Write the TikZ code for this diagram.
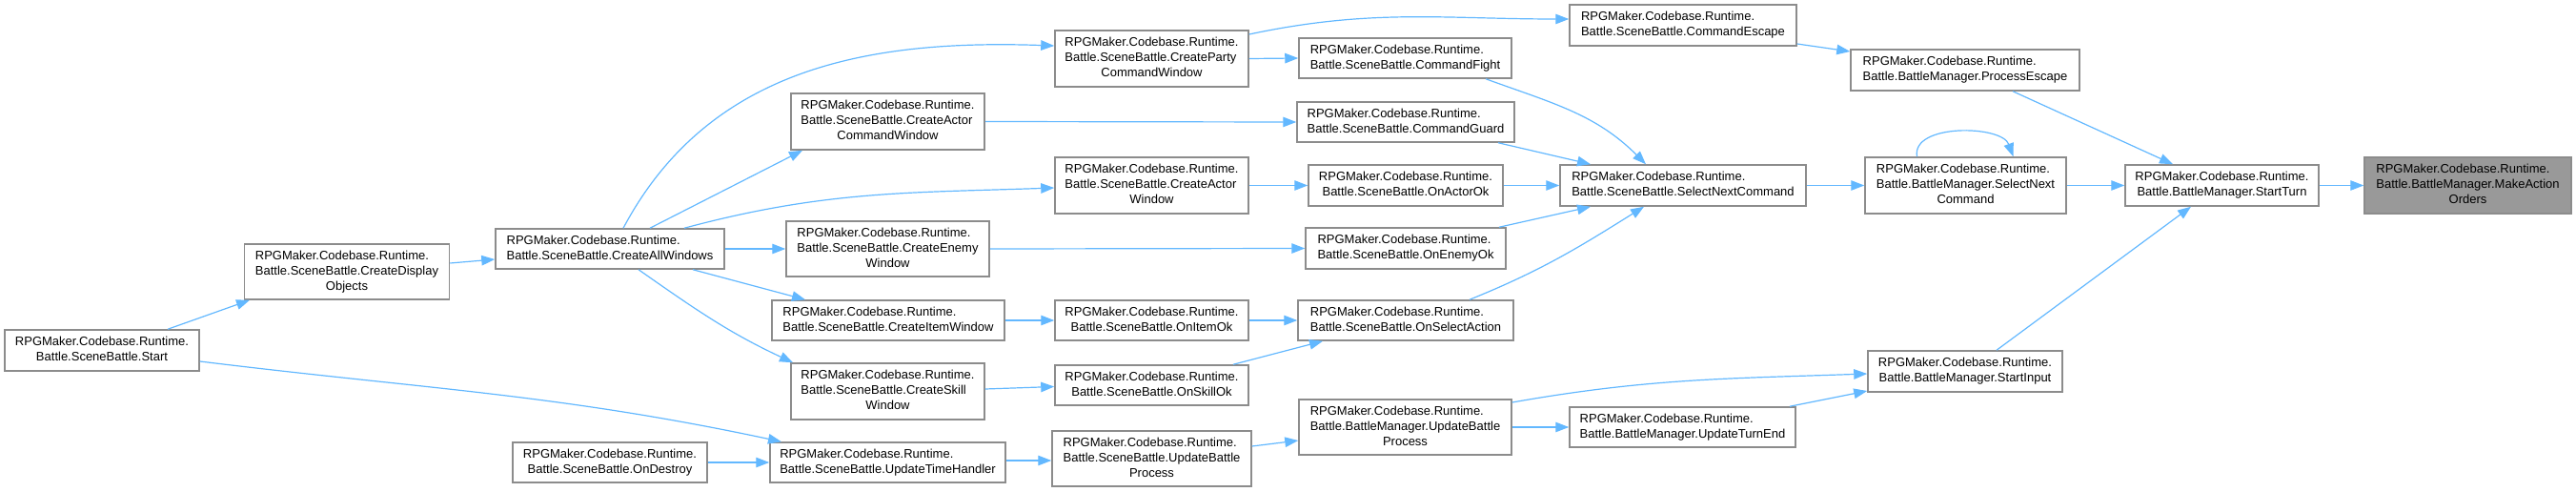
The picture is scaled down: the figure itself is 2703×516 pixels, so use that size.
\documentclass[tikz,border=0pt]{standalone}
\usepackage{fontspec}
\setmainfont{Liberation Sans}
\usetikzlibrary{arrows.meta}
\definecolor{edgec}{HTML}{63B8FF}
\definecolor{boxc}{HTML}{8C8C8C}
\definecolor{rootfill}{HTML}{999999}
\newcommand{\twol}[2]{\begin{tabular}{@{}l@{}}#1\\\multicolumn{1}{@{}c@{}}{#2}\end{tabular}}
\newcommand{\threel}[3]{\begin{tabular}{@{}l@{}}#1\\#2\\\multicolumn{1}{@{}c@{}}{#3}\end{tabular}}
\newcommand{\RC}{RPGMaker.Codebase.Runtime.}
\begin{document}
\begin{tikzpicture}[x=1pt,y=1pt,
  fn/.style={rectangle, draw=boxc, fill=white, line width=1.5pt, inner sep=0pt,
    font=\fontsize{13}{16}\selectfont, text=black},
  root/.style={fn, fill=rootfill},
  call/.style={draw=edgec, line width=1.2pt, -{Triangle[length=14pt,width=10.5pt]}}]
\useasboundingbox (0,0) rectangle (2703,-516);

\node[fn, minimum width=204pt, minimum height=43pt] (start) at (107,-367.5) {\twol{\RC}{Battle.SceneBattle.Start}};
\node[fn, minimum width=215pt, minimum height=58pt] (createdisplay) at (364,-285) {\threel{\RC}{Battle.SceneBattle.CreateDisplay}{Objects}};
\node[fn, minimum width=240pt, minimum height=42pt] (createall) at (640,-261) {\twol{\RC}{Battle.SceneBattle.CreateAllWindows}};
\node[fn, minimum width=203pt, minimum height=59pt] (createparty) at (1208.5,-61.5) {\threel{\RC}{Battle.SceneBattle.CreateParty}{CommandWindow}};
\node[fn, minimum width=203pt, minimum height=59pt] (createactorcmd) at (931.5,-127.5) {\threel{\RC}{Battle.SceneBattle.CreateActor}{CommandWindow}};
\node[fn, minimum width=203pt, minimum height=59pt] (createactor) at (1208.5,-194.5) {\threel{\RC}{Battle.SceneBattle.CreateActor}{Window}};
\node[fn, minimum width=213pt, minimum height=58pt] (createenemy) at (931.5,-261) {\threel{\RC}{Battle.SceneBattle.CreateEnemy}{Window}};
\node[fn, minimum width=244pt, minimum height=42pt] (createitem) at (932,-336) {\twol{\RC}{Battle.SceneBattle.CreateItemWindow}};
\node[fn, minimum width=203pt, minimum height=59pt] (createskill) at (931.5,-410.5) {\threel{\RC}{Battle.SceneBattle.CreateSkill}{Window}};
\node[fn, minimum width=204pt, minimum height=42pt] (ondestroy) at (640,-485) {\twol{\RC}{Battle.SceneBattle.OnDestroy}};
\node[fn, minimum width=247pt, minimum height=42pt] (updatetime) at (931.5,-485) {\twol{\RC}{Battle.SceneBattle.UpdateTimeHandler}};
\node[fn, minimum width=209pt, minimum height=58pt] (updatebattlescene) at (1208.5,-481) {\threel{\RC}{Battle.SceneBattle.UpdateBattle}{Process}};
\node[fn, minimum width=223pt, minimum height=42pt] (commandfight) at (1474.5,-61) {\twol{\RC}{Battle.SceneBattle.CommandFight}};
\node[fn, minimum width=228pt, minimum height=42pt] (commandguard) at (1475,-128) {\twol{\RC}{Battle.SceneBattle.CommandGuard}};
\node[fn, minimum width=204pt, minimum height=43pt] (onactorok) at (1475,-194.5) {\twol{\RC}{Battle.SceneBattle.OnActorOk}};
\node[fn, minimum width=210pt, minimum height=43pt] (onenemyok) at (1475,-260.5) {\twol{\RC}{Battle.SceneBattle.OnEnemyOk}};
\node[fn, minimum width=203pt, minimum height=42pt] (onitemok) at (1208.5,-336) {\twol{\RC}{Battle.SceneBattle.OnItemOk}};
\node[fn, minimum width=226pt, minimum height=42pt] (onselectaction) at (1475,-336) {\twol{\RC}{Battle.SceneBattle.OnSelectAction}};
\node[fn, minimum width=203pt, minimum height=42pt] (onskillok) at (1208.5,-404) {\twol{\RC}{Battle.SceneBattle.OnSkillOk}};
\node[fn, minimum width=223pt, minimum height=58pt] (updatebattlemgr) at (1474.5,-448) {\threel{\RC}{Battle.BattleManager.UpdateBattle}{Process}};
\node[fn, minimum width=238pt, minimum height=43pt] (commandescape) at (1766,-26.5) {\twol{\RC}{Battle.SceneBattle.CommandEscape}};
\node[fn, minimum width=258pt, minimum height=43pt] (selectnextcmd) at (1766,-194.5) {\twol{\RC}{Battle.SceneBattle.SelectNextCommand}};
\node[fn, minimum width=237pt, minimum height=42pt] (updateturnend) at (1765.5,-448) {\twol{\RC}{Battle.BattleManager.UpdateTurnEnd}};
\node[fn, minimum width=240pt, minimum height=43pt] (processescape) at (2062,-73.5) {\twol{\RC}{Battle.BattleManager.ProcessEscape}};
\node[fn, minimum width=211pt, minimum height=59pt] (selectnextmgr) at (2062.5,-194.5) {\threel{\RC}{Battle.BattleManager.SelectNext}{Command}};
\node[fn, minimum width=204pt, minimum height=43pt] (startinput) at (2062,-389.5) {\twol{\RC}{Battle.BattleManager.StartInput}};
\node[fn, minimum width=203pt, minimum height=43pt] (startturn) at (2331.5,-194.5) {\twol{\RC}{Battle.BattleManager.StartTurn}};
\node[root, minimum width=217pt, minimum height=59pt] (makeaction) at (2589.5,-194.5) {\threel{\RC}{Battle.BattleManager.MakeAction}{Orders}};

\draw[call] ([xshift=69pt]start.north) -- ([xshift=-102pt]createdisplay.south);
\draw[call] ([yshift=-11.5pt]start.east) to[out=-7,in=168] ([xshift=-111.5pt]updatetime.north);
\draw[call] ([yshift=9pt]createdisplay.east) -- ([yshift=-11pt]createall.west);
\draw[call] ([xshift=14pt]createall.north) to[out=62,in=178] ([yshift=13.5pt]createparty.west);
\draw[call] ([xshift=42pt]createall.north) -- ([xshift=-89.5pt]createactorcmd.south);
\draw[call] ([xshift=78pt]createall.north) to[out=15,in=182] ([yshift=-2.5pt]createactor.west);
\draw[call] (createall.east) -- (createenemy.west);
\draw[call] ([xshift=87pt]createall.south) -- ([xshift=-87pt]createitem.north);
\draw[call] ([xshift=30pt]createall.south) to[out=-35,in=155] ([xshift=-99.5pt]createskill.north);
\draw[call] ([yshift=25.5pt]createparty.east) to[out=12,in=180] ([yshift=6.5pt]commandescape.west);
\draw[call] (createparty.east) -- (commandfight.west);
\draw[call] (createactorcmd.east) -- (commandguard.west);
\draw[call] (createactor.east) -- (onactorok.west);
\draw[call] (createenemy.east) -- (onenemyok.west);
\draw[call] (createitem.east) -- (onitemok.west);
\draw[call] ([yshift=2.5pt]createskill.east) -- ([yshift=-1.5pt]onskillok.west);
\draw[call] (ondestroy.east) -- (updatetime.west);
\draw[call] ([yshift=2pt]updatetime.east) -- ([yshift=-2pt]updatebattlescene.west);
\draw[call] ([yshift=13pt]updatebattlescene.east) -- ([yshift=-14pt]updatebattlemgr.west);
\draw[call] (updatebattlemgr.east) -- (updateturnend.west);
\draw[call] ([yshift=26pt]updatebattlemgr.east) to[out=10,in=182] ([yshift=-2.5pt]startinput.west);
\draw[call] ([xshift=112.5pt]updateturnend.north) -- ([yshift=-20.5pt]startinput.west);
\draw[call] ([xshift=84.5pt]commandfight.south) to[out=-20,in=135] ([xshift=-39pt]selectnextcmd.north);
\draw[call] ([xshift=97pt]commandguard.south) -- ([xshift=-97pt]selectnextcmd.north);
\draw[call] (onactorok.east) -- (selectnextcmd.west);
\draw[call] ([xshift=98pt]onenemyok.north) -- ([xshift=-97pt]selectnextcmd.south);
\draw[call] ([xshift=67pt]onselectaction.north) to[out=22,in=212] ([xshift=-41pt]selectnextcmd.south);
\draw[call] (onitemok.east) -- (onselectaction.west);
\draw[call] ([xshift=85.5pt]onskillok.north) -- ([xshift=-87pt]onselectaction.south);
\draw[call] ([yshift=-19.5pt]commandescape.east) -- ([yshift=19.5pt]processescape.west);
\draw[call] ([xshift=50pt]processescape.south) -- ([xshift=-51.5pt]startturn.north);
\draw[call] (selectnextcmd.east) -- (selectnextmgr.west);
\draw[call] ([xshift=-51pt]selectnextmgr.north) to[out=100,in=110,looseness=0.9] ([xshift=50pt]selectnextmgr.north);
\draw[call] (selectnextmgr.east) -- (startturn.west);
\draw[call] ([xshift=33pt]startinput.north) -- ([xshift=-32.5pt]startturn.south);
\draw[call] (startturn.east) -- (makeaction.west);
\end{tikzpicture}
\end{document}
